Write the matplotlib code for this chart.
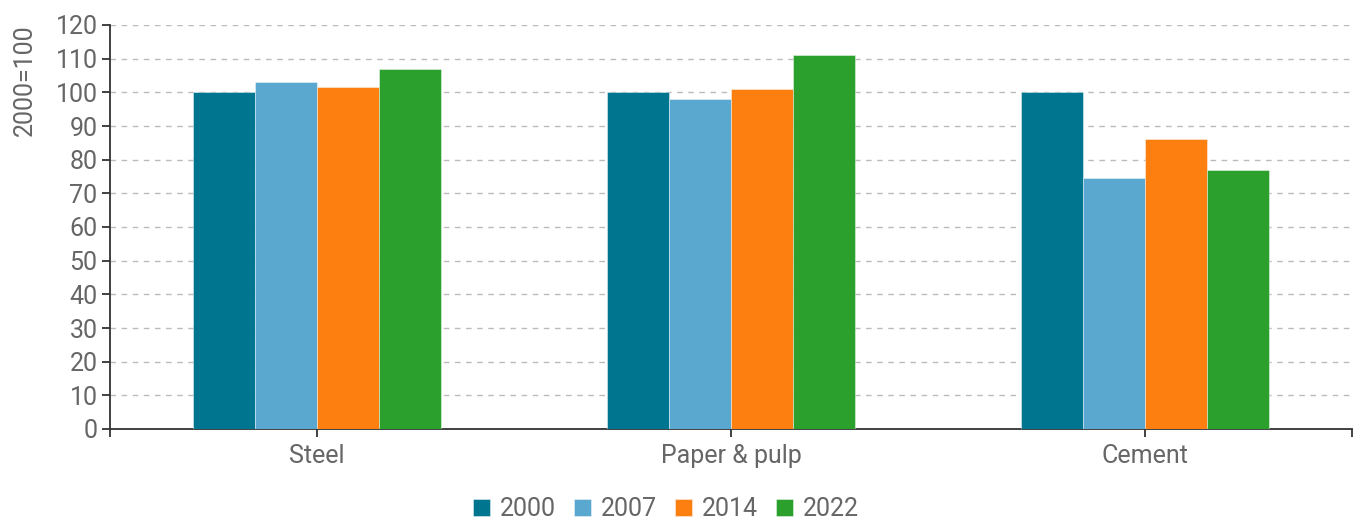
import numpy as np
import matplotlib.pyplot as plt

# 데이터
categories = ['Steel', 'Paper & pulp', 'Cement']
years = ['2000', '2007', '2014', '2022']
v2000 = [100, 100, 100]
v2007 = [103, 98, 74.7]
v2014 = [101.5, 101, 86]
v2022 = [107, 111, 77]
yticks = list(range(0, 121, 10))

colors = ['#00758f', '#5aa8d0', '#fd7f10', '#2ca02c']
series = [v2000, v2007, v2014, v2022]

plt.rcParams['font.family'] = ['Roboto', 'DejaVu Sans']
fs = 18

fig = plt.figure(figsize=(13.62, 5.19), dpi=100)
ax = fig.add_axes([110/1362, 1-429/519, (1352-110)/1362, (429-25)/519])

x = np.arange(len(categories))
w = 0.15
for i, (vals, c, lab) in enumerate(zip(series, colors, years)):
    ax.bar(x + (i - 1.5) * w, vals, w, color=c, label=lab,
           edgecolor=(1, 1, 1, 0.5), linewidth=0.6, zorder=3)

ax.set_xlim(-0.5, 2.5)
ax.set_ylim(0, 120)
ax.set_yticks(yticks)
ax.set_xticks([-0.5, 0, 1, 2, 2.5])
ax.set_xticklabels([''] + categories + [''])
ax.grid(axis='y', color='#bbbbbb', linestyle=(0, (4, 4)), linewidth=1, zorder=0)
for s in ['top', 'right']:
    ax.spines[s].set_visible(False)
for s in ['left', 'bottom']:
    ax.spines[s].set_color('#333333')
    ax.spines[s].set_linewidth(1.3)
ax.tick_params(axis='both', colors='#333333', labelcolor='#666666',
               labelsize=fs, length=6, width=1.3)
ax.tick_params(axis='x', pad=5)
ax.tick_params(axis='y', pad=3)

fig.text(25/1362, 1-80/519, '2000=100', rotation=90, ha='center', va='center',
         fontsize=fs, color='#666666')

fig.legend(loc='center', bbox_to_anchor=(666/1362, 1-509/519), ncol=4, frameon=False,
           fontsize=fs, labelcolor='#666666', handlelength=0.7, handleheight=0.7,
           handletextpad=0.4, columnspacing=0.7)

fig.savefig('out.png', dpi=100)
